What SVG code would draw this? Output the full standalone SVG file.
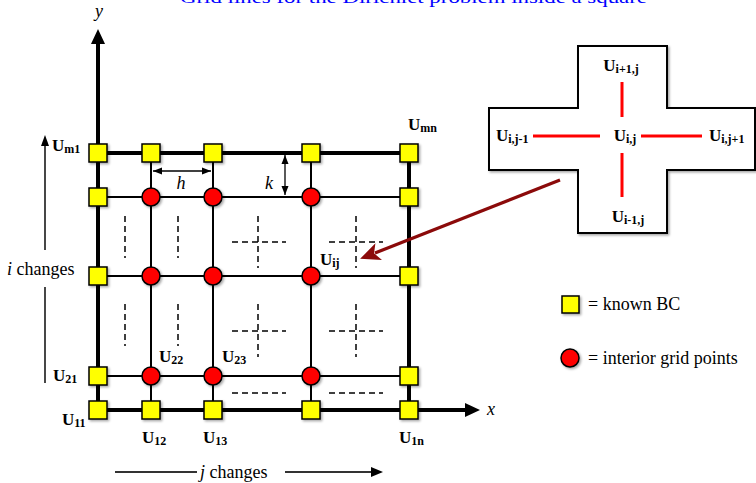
<svg xmlns="http://www.w3.org/2000/svg" width="756" height="483" viewBox="0 0 756 483">
  <style>
    .thick { stroke: #000; stroke-width: 4; fill: none; }
    .thin { stroke: #000; stroke-width: 2; fill: none; }
    .dash { stroke: #000; stroke-width: 1.5; stroke-dasharray: 6 4; fill: none; }
    .dim { stroke: #000; stroke-width: 1.3; fill: none; }
    .bc { fill: #ffff00; stroke: #000; stroke-width: 1.5; filter: url(#sh); }
    .gp { fill: #ff0000; stroke: #000; stroke-width: 1.5; filter: url(#sh); }
    .lbl { font-family: "Liberation Serif", "DejaVu Serif", serif; font-weight: bold; font-size: 17px; fill: #000; }
    .sub { font-size: 12px; }
    .txt { font-family: "Liberation Serif", "DejaVu Serif", serif; font-size: 18px; fill: #000; }
    .it { font-style: italic; }
    .red { stroke: #ff0000; stroke-width: 3; }
  </style>
  <defs>
    <filter id="sh" x="-30%" y="-30%" width="170%" height="170%">
      <feDropShadow dx="1.5" dy="1.5" stdDeviation="1" flood-color="#000" flood-opacity="0.35"/>
    </filter>
    <marker id="ahs" markerWidth="10" markerHeight="10" refX="9" refY="5" orient="auto-start-reverse" markerUnits="userSpaceOnUse">
      <path d="M0,1.5 L9,5 L0,8.5 Z" fill="#000"/>
    </marker>
    <marker id="ahr" markerWidth="22" markerHeight="18" refX="4" refY="9" orient="auto" markerUnits="userSpaceOnUse">
      <path d="M0,0 L20,9 L0,18 L5,9 Z" fill="#8b0a0a"/>
    </marker>
  </defs>

  <!-- title (sits against the top edge) -->
  <text x="180" y="3" font-family="'Liberation Serif', 'DejaVu Serif', serif" font-size="17" fill="#0000ff" textLength="467" lengthAdjust="spacingAndGlyphs">Grid lines for the Dirichlet problem inside a square</text>

  <g id="connectors">
    <!-- interior grid lines -->
    <path class="thin" d="M98,197 H409 M98,276 H409 M98,376 H409 M151,153 V410 M213,153 V410 M311,153 V410"/>
    <!-- boundary -->
    <path class="thick" d="M98,153 H409 V410"/>
    <!-- axes -->
    <path class="thick" d="M98,418 V43"/>
    <path d="M91,44 L98,29 L105,44 Z" fill="#000"/>
    <path class="thick" d="M94,410 H466"/>
    <path d="M465,403 L480,410 L465,417 Z" fill="#000"/>

    <!-- dashed stencil hints -->
    <path class="dash" d="M125,216 V258 M178,216 V258 M125,304 V346 M178,304 V346"/>
    <path class="dash" d="M232,242 H286 M258,216 V268 M329,242 H383 M356,216 V268"/>
    <path class="dash" d="M232,331 H286 M258,304 V357 M329,331 H383 M356,304 V357"/>
    <path class="dash" d="M232,393 H286 M329,393 H383"/>

    <!-- spacing dimensions -->
    <path class="dim" d="M153,171 H211" marker-start="url(#ahs)" marker-end="url(#ahs)"/>
    <path class="dim" d="M285,155 V195" marker-start="url(#ahs)" marker-end="url(#ahs)"/>

    <!-- index direction arrows -->
    <path d="M45,250 V144 M45,287 V383" stroke="#333" stroke-width="1.8" fill="none"/>
    <path d="M41,146 L45,135 L49,146 Z" fill="#000"/>
    <path d="M115,472 H197 M285,472 H372" stroke="#333" stroke-width="1.8" fill="none"/>
    <path d="M371,467 L383,472 L371,477 Z" fill="#000"/>

    <!-- pointer to stencil -->
    <path d="M560,180 L375,253" stroke="#8b0a0a" stroke-width="3.2" fill="none" marker-end="url(#ahr)"/>
  </g>

  <!-- dimension and axis labels -->
  <text class="txt it" x="181" y="189" text-anchor="middle" font-size="19">h</text>
  <text class="txt it" x="269" y="189" text-anchor="middle" font-size="19">k</text>
  <text class="txt it" x="99" y="17" text-anchor="middle">y</text>
  <text class="txt it" x="487" y="415">x</text>
  <text class="txt" x="7" y="275"><tspan class="it">i</tspan> changes</text>
  <text class="txt" x="200" y="478"><tspan class="it">j</tspan>  changes</text>

  <!-- boundary nodes -->
  <g id="bc-top">
    <rect class="bc" x="89" y="144" width="18" height="18"/>
    <rect class="bc" x="142" y="144" width="18" height="18"/>
    <rect class="bc" x="204" y="144" width="18" height="18"/>
    <rect class="bc" x="302" y="144" width="18" height="18"/>
    <rect class="bc" x="400" y="144" width="18" height="18"/>
  </g>
  <g id="bc-left">
    <rect class="bc" x="89" y="188" width="18" height="18"/>
    <rect class="bc" x="89" y="267" width="18" height="18"/>
    <rect class="bc" x="89" y="367" width="18" height="18"/>
  </g>
  <g id="bc-right">
    <rect class="bc" x="400" y="188" width="18" height="18"/>
    <rect class="bc" x="400" y="267" width="18" height="18"/>
    <rect class="bc" x="400" y="367" width="18" height="18"/>
  </g>
  <g id="bc-bottom">
    <rect class="bc" x="89" y="401" width="18" height="18"/>
    <rect class="bc" x="142" y="401" width="18" height="18"/>
    <rect class="bc" x="204" y="401" width="18" height="18"/>
    <rect class="bc" x="302" y="401" width="18" height="18"/>
    <rect class="bc" x="400" y="401" width="18" height="18"/>
  </g>
  <g id="interior">
    <circle class="gp" cx="151" cy="197" r="9"/>
    <circle class="gp" cx="213" cy="197" r="9"/>
    <circle class="gp" cx="311" cy="197" r="9"/>
    <circle class="gp" cx="151" cy="276" r="9"/>
    <circle class="gp" cx="213" cy="276" r="9"/>
    <circle class="gp" cx="311" cy="276" r="9"/>
    <circle class="gp" cx="151" cy="376" r="9"/>
    <circle class="gp" cx="213" cy="376" r="9"/>
    <circle class="gp" cx="311" cy="376" r="9"/>
  </g>

  <!-- node labels -->
  <g id="labels">
    <text class="lbl" x="52" y="151">U<tspan class="sub" dy="2">m1</tspan></text>
    <text class="lbl" x="408" y="130">U<tspan class="sub" dy="2">mn</tspan></text>
    <text class="lbl" x="320" y="265">U<tspan class="sub" dy="2">ij</tspan></text>
    <text class="lbl" x="159" y="362">U<tspan class="sub" dy="2">22</tspan></text>
    <text class="lbl" x="222" y="362">U<tspan class="sub" dy="2">23</tspan></text>
    <text class="lbl" x="53" y="381">U<tspan class="sub" dy="2">21</tspan></text>
    <text class="lbl" x="62" y="425">U<tspan class="sub" dy="2">11</tspan></text>
    <text class="lbl" x="142" y="443">U<tspan class="sub" dy="2">12</tspan></text>
    <text class="lbl" x="203" y="443">U<tspan class="sub" dy="2">13</tspan></text>
    <text class="lbl" x="399" y="443">U<tspan class="sub" dy="2">1n</tspan></text>
  </g>

  <!-- five-point stencil -->
  <g id="stencil">
    <path d="M578,46 H667 V108 H755 V170 H667 V233 H578 V170 H489 V108 H578 Z" fill="#fff" stroke="#000" stroke-width="2" filter="url(#sh)"/>
    <path class="red" d="M622,82 V117 M622,153 V197 M533,136 H600 M641,136 H702"/>
    <text class="lbl" x="621" y="71" text-anchor="middle">U<tspan class="sub" dy="2">i+1,j</tspan></text>
    <text class="lbl" x="625" y="141" text-anchor="middle">U<tspan class="sub" dy="2">i,j</tspan></text>
    <text class="lbl" x="628" y="222" text-anchor="middle">U<tspan class="sub" dy="2">i-1,j</tspan></text>
    <text class="lbl" x="496" y="141">U<tspan class="sub" dy="2">i,j-1</tspan></text>
    <text class="lbl" x="709" y="141">U<tspan class="sub" dy="2">i,j+1</tspan></text>
  </g>

  <!-- legend -->
  <g id="legend-bc">
    <rect class="bc" x="562" y="296" width="17" height="17"/>
    <text class="txt" x="588" y="310">= known BC</text>
  </g>
  <g id="legend-gp">
    <circle class="gp" cx="570" cy="358" r="9"/>
    <text class="txt" x="588" y="364">= interior grid points</text>
  </g>
</svg>
